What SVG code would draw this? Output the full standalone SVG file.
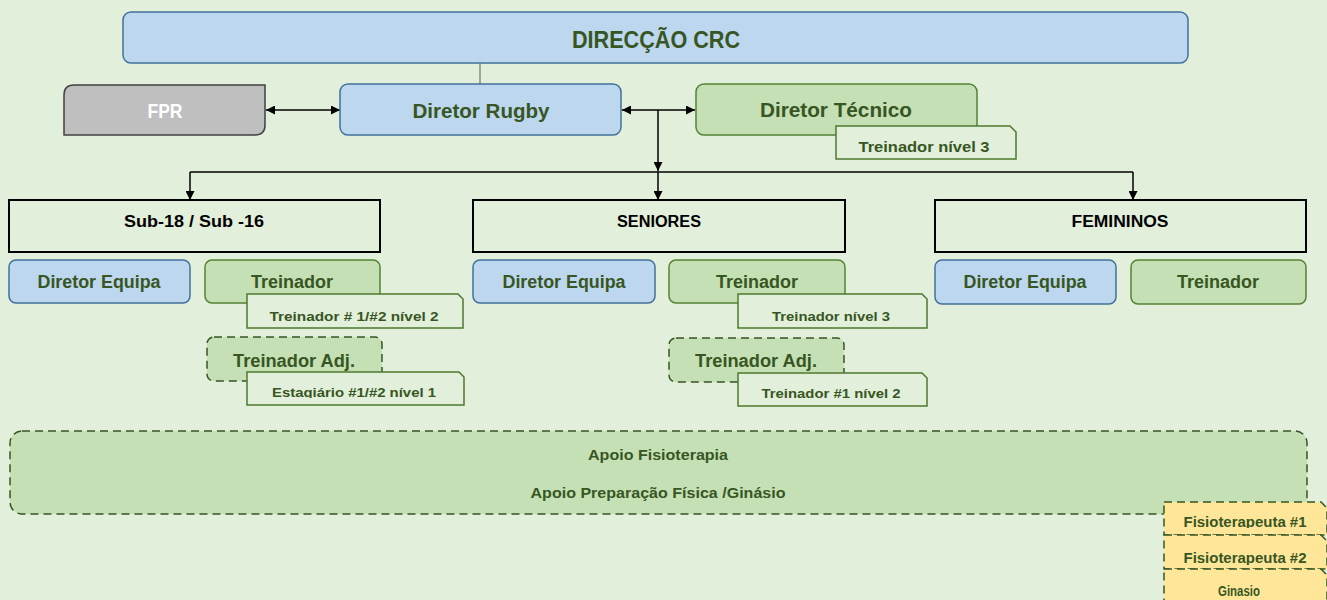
<svg xmlns="http://www.w3.org/2000/svg" width="1327" height="600" viewBox="0 0 1327 600">
<style>
text{font-family:"Liberation Sans",Arial,sans-serif;font-weight:bold;text-anchor:middle;fill:#375623}
.blue{fill:#BDD7EE;stroke:#41719C;stroke-width:1.5}
.green{fill:#C5E0B4;stroke:#548235;stroke-width:1.5}
.dash{fill:#C5E0B4;stroke:#375623;stroke-width:1.5;stroke-dasharray:8 5}
.lbl{fill:#E2EFDA;stroke:#4E7A2E;stroke-width:1.5}
.team{fill:#E2EFDA;stroke:#000;stroke-width:2}
.teamt{fill:#000;font-size:16px}
.yel{fill:#FFE699;stroke:#375623;stroke-width:1.5;stroke-dasharray:8 5}
.conn{stroke:#000;stroke-width:1.5;fill:none}
</style>
<defs>
<marker id="ah" viewBox="0 0 10 10" refX="10" refY="5" markerWidth="9" markerHeight="9" markerUnits="userSpaceOnUse" orient="auto-start-reverse"><path d="M0,0 L10,5 L0,10 Z" fill="#000"/></marker>
<clipPath id="c1"><rect x="240" y="370" width="230" height="28"/></clipPath>
<clipPath id="c2"><rect x="1160" y="500" width="167" height="28"/></clipPath>
<clipPath id="c3"><rect x="1160" y="535" width="167" height="30"/></clipPath>
</defs>
<rect width="1327" height="600" fill="#E2EFDA"/>
<g id="connectors">
<line x1="480" y1="63" x2="480" y2="84" stroke="#595959" stroke-width="1"/>
<line class="conn" x1="266" y1="110" x2="340" y2="110" marker-start="url(#ah)" marker-end="url(#ah)"/>
<line class="conn" x1="622" y1="110" x2="695" y2="110" marker-start="url(#ah)" marker-end="url(#ah)"/>
<line class="conn" x1="658" y1="110" x2="658" y2="171" marker-end="url(#ah)"/>
<line class="conn" x1="190" y1="172" x2="1133" y2="172" stroke-width="1"/>
<line class="conn" x1="190" y1="172" x2="190" y2="200" marker-end="url(#ah)"/>
<line class="conn" x1="658" y1="172" x2="658" y2="200" marker-end="url(#ah)"/>
<line class="conn" x1="1133" y1="172" x2="1133" y2="200" marker-end="url(#ah)"/>
</g>
<g id="direccao">
<rect class="blue" x="123" y="12" width="1065" height="51" rx="8"/>
<text x="656" y="48" font-size="24" textLength="168" lengthAdjust="spacingAndGlyphs">DIRECÇÃO CRC</text>
</g>
<g id="fpr">
<path d="M74,85 H265 V125 Q265,135 255,135 H64 V95 Q64,85 74,85 Z" fill="#BFBFBF" stroke="#404040" stroke-width="1.5"/>
<text x="165" y="118" font-size="20" fill="#fff" style="fill:#fff" textLength="35" lengthAdjust="spacingAndGlyphs">FPR</text>
</g>
<g id="diretor-rugby">
<rect class="blue" x="340" y="84" width="281" height="51" rx="8"/>
<text x="481" y="118" font-size="20" textLength="137" lengthAdjust="spacingAndGlyphs">Diretor Rugby</text>
</g>
<g id="diretor-tecnico">
<rect class="green" x="696" y="84" width="281" height="51" rx="8"/>
<text x="836" y="117" font-size="20" textLength="152" lengthAdjust="spacingAndGlyphs">Diretor Técnico</text>
<path class="lbl" d="M836,126 H1010 L1016,132 V159 H836 Z"/>
<text x="924" y="152" font-size="14" textLength="131" lengthAdjust="spacingAndGlyphs">Treinador nível 3</text>
</g>
<g id="sub18">
<rect class="team" x="9" y="200" width="371" height="52"/>
<text class="teamt" x="194" y="227" textLength="140" lengthAdjust="spacingAndGlyphs">Sub-18 / Sub -16</text>
</g>
<g id="seniores">
<rect class="team" x="473" y="200" width="372" height="52"/>
<text class="teamt" x="659" y="227" textLength="84" lengthAdjust="spacingAndGlyphs">SENIORES</text>
</g>
<g id="femininos">
<rect class="team" x="935" y="200" width="371" height="52"/>
<text class="teamt" x="1120" y="227" textLength="97" lengthAdjust="spacingAndGlyphs">FEMININOS</text>
</g>
<g id="sub18-diretor">
<rect class="blue" x="9" y="260" width="181" height="43" rx="7"/>
<text x="99" y="288" font-size="18" textLength="123" lengthAdjust="spacingAndGlyphs">Diretor Equipa</text>
</g>
<g id="sub18-treinador">
<rect class="green" x="205" y="260" width="175" height="43" rx="7"/>
<text x="292" y="288" font-size="18" textLength="82" lengthAdjust="spacingAndGlyphs">Treinador</text>
<path class="lbl" d="M247,294 H458 L463,299 V328 H247 Z"/>
<text x="354" y="321" font-size="13.5" textLength="169" lengthAdjust="spacingAndGlyphs">Treinador # 1/#2 nível 2</text>
</g>
<g id="sub18-adj">
<rect class="dash" x="207" y="337" width="175" height="44" rx="7"/>
<text x="294" y="367" font-size="18" textLength="122" lengthAdjust="spacingAndGlyphs">Treinador Adj.</text>
<path class="lbl" d="M247,372 H459 L464,377 V405 H247 Z"/>
<text x="354" y="397" font-size="13.5" textLength="164" lengthAdjust="spacingAndGlyphs" clip-path="url(#c1)">Estagiário #1/#2 nível 1</text>
</g>
<g id="sen-diretor">
<rect class="blue" x="473" y="260" width="182" height="43" rx="7"/>
<text x="564" y="288" font-size="18" textLength="123" lengthAdjust="spacingAndGlyphs">Diretor Equipa</text>
</g>
<g id="sen-treinador">
<rect class="green" x="669" y="260" width="176" height="43" rx="7"/>
<text x="757" y="288" font-size="18" textLength="82" lengthAdjust="spacingAndGlyphs">Treinador</text>
<path class="lbl" d="M738,294 H922 L927,299 V328 H738 Z"/>
<text x="831" y="321" font-size="13" textLength="118" lengthAdjust="spacingAndGlyphs">Treinador nível 3</text>
</g>
<g id="sen-adj">
<rect class="dash" x="669" y="338" width="175" height="44" rx="7"/>
<text x="756" y="367" font-size="18" textLength="122" lengthAdjust="spacingAndGlyphs">Treinador Adj.</text>
<path class="lbl" d="M738,373 H922 L927,378 V406 H738 Z"/>
<text x="831" y="398" font-size="13.5" textLength="139" lengthAdjust="spacingAndGlyphs">Treinador #1 nível 2</text>
</g>
<g id="fem-diretor">
<rect class="blue" x="935" y="260" width="181" height="44" rx="7"/>
<text x="1025" y="288" font-size="18" textLength="123" lengthAdjust="spacingAndGlyphs">Diretor Equipa</text>
</g>
<g id="fem-treinador">
<rect class="green" x="1131" y="260" width="175" height="44" rx="7"/>
<text x="1218" y="288" font-size="18" textLength="82" lengthAdjust="spacingAndGlyphs">Treinador</text>
</g>
<g id="apoio">
<rect class="dash" x="10" y="431" width="1297" height="83" rx="12"/>
<text x="658" y="460" font-size="15" textLength="140" lengthAdjust="spacingAndGlyphs">Apoio Fisioterapia</text>
<text x="658" y="498" font-size="15" textLength="255" lengthAdjust="spacingAndGlyphs">Apoio Preparação Física /Ginásio</text>
</g>
<g id="fisio1">
<path class="yel" d="M1164,502 H1321 L1327,508 V535 H1164 Z"/>
<text x="1245" y="526.5" font-size="14" textLength="123" lengthAdjust="spacingAndGlyphs" clip-path="url(#c2)">Fisioterapeuta #1</text>
</g>
<g id="fisio2">
<path class="yel" d="M1164,535 H1321 L1327,541 V569 H1164 Z"/>
<text x="1245" y="563" font-size="14" textLength="123" lengthAdjust="spacingAndGlyphs" clip-path="url(#c3)">Fisioterapeuta #2</text>
</g>
<g id="ginasio">
<path class="yel" d="M1164,569 H1321 L1327,575 V602 H1164 Z"/>
<text x="1239" y="596" font-size="14" textLength="42" lengthAdjust="spacingAndGlyphs">Ginasio</text>
</g>
</svg>
